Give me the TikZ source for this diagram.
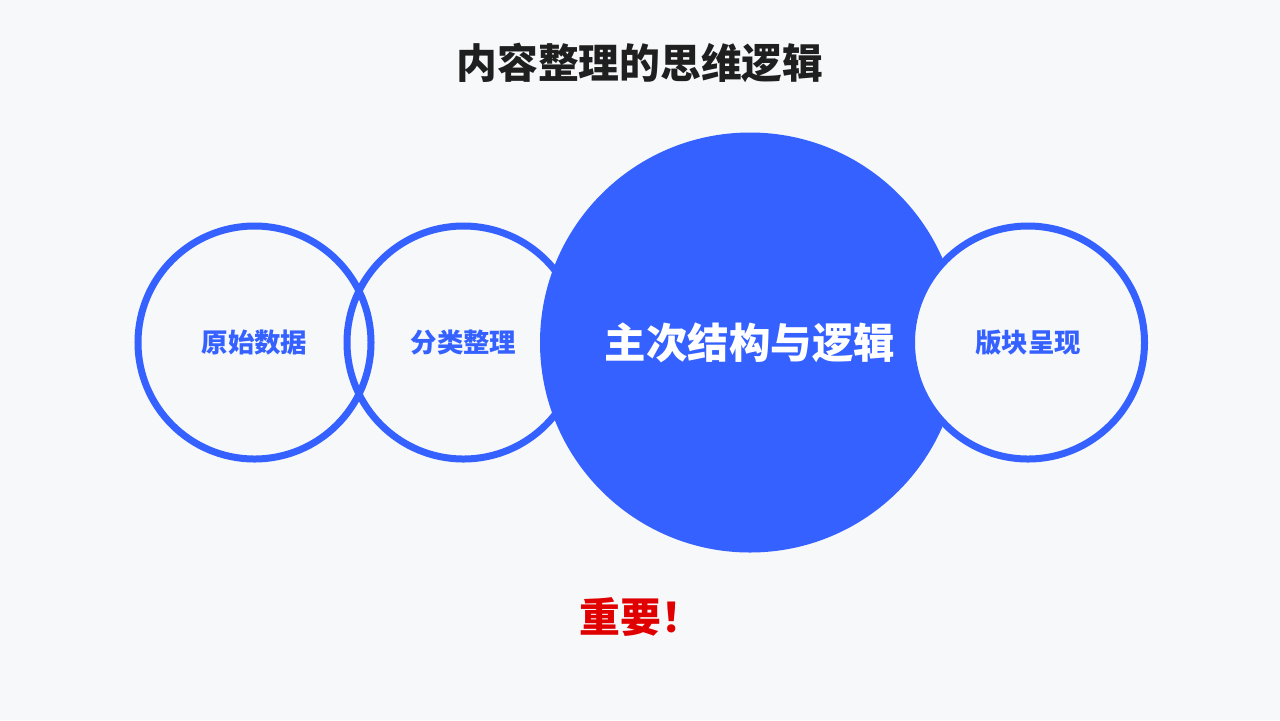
\documentclass[tikz,border=0pt]{standalone}
\usepackage{fontspec}
\setmainfont{Noto Sans CJK SC}
\usetikzlibrary{positioning}
\definecolor{mainblue}{HTML}{3461FF}
\definecolor{alertred}{HTML}{E00000}
\definecolor{ink}{HTML}{1F1F1F}
\definecolor{papergray}{HTML}{F6F8FA}

\begin{document}
\begin{tikzpicture}[x=.25mm,y=.25mm,
  font=\bfseries, text=ink,
  ring/.style={circle,draw=mainblue,line width=1.75mm,minimum size=58.25mm,
               inner sep=0pt,text=mainblue,font=\bfseries\fontsize{18.8}{20}\selectfont},
  core/.style={circle,fill=mainblue,minimum size=105mm,inner sep=0pt,
               text=white,font=\bfseries\fontsize{29.5}{32}\selectfont},
  headline/.style={font=\bfseries\fontsize{29}{32}\selectfont},
]
% 1280 x 720 canvas, origin top left
\fill[papergray] (0,0) rectangle (1280,-720);
\path[use as bounding box] (0,0) rectangle (1280,-720);

\node[headline] (title) at (640,-63) {内容整理的思维逻辑};

\node[ring] (raw) at (254.5,-342.5) {原始数据};
\node[ring] (sort) at (463.5,-342.5) {分类整理};
\node[core] (logic) at (750,-342.5) {主次结构与逻辑};
\node[ring,fill=papergray] (layout) at (1028,-342.5) {版块呈现};

\node[headline,text=alertred,anchor=west] (note) at (575,-617) {重要！};
\end{tikzpicture}
\end{document}
